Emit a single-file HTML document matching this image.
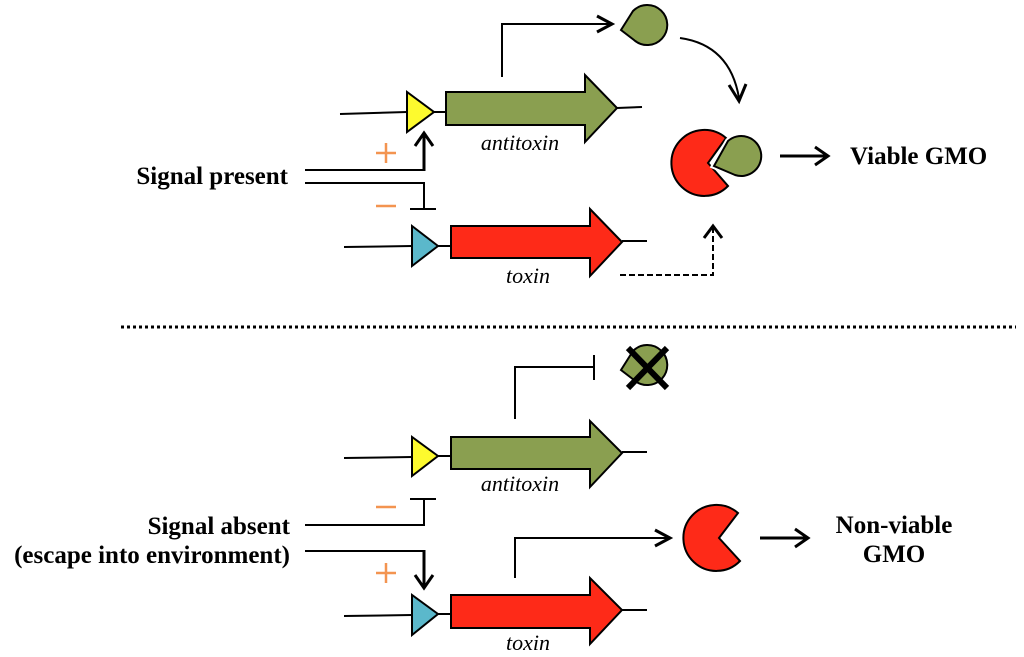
<!DOCTYPE html>
<html><head><meta charset="utf-8"><style>
html,body{margin:0;padding:0;background:#fff;}
svg{display:block;}
text{font-family:"Liberation Serif",serif;}
</style></head><body>
<svg width="1024" height="657" viewBox="0 0 1024 657" xmlns="http://www.w3.org/2000/svg">
<g stroke="#000" stroke-width="2" fill="none">
<line x1="340" y1="114" x2="407" y2="112"/>
<line x1="434" y1="112" x2="446" y2="112"/>
<line x1="617" y1="108" x2="642" y2="107"/>
<line x1="344" y1="247" x2="412" y2="246"/>
<line x1="438" y1="246" x2="451" y2="246"/>
<line x1="622" y1="241" x2="647" y2="241"/>
<polyline points="502,77 502,24 610,24"/>
<polyline points="597,16 612,24 597,32" stroke-width="3"/>
<path d="M680,38 Q730,45 739,98"/>
<polyline points="729,85 739,101 746,84" stroke-width="3"/>
<polyline points="305,170 424,170"/>
<line x1="424" y1="171" x2="424" y2="135" stroke-width="3"/>
<polyline points="415,146 424,133 433,146" stroke-width="3"/>
<polyline points="305,183 424,183 424,209"/>
<line x1="410" y1="209" x2="436" y2="209"/>
<polyline points="620,275 713,275 713,228" stroke-dasharray="6,3"/>
<polyline points="704,238 713,226 722,238" stroke-width="3"/>
<line x1="780" y1="156" x2="828" y2="156" stroke-width="3"/>
<polyline points="815,147 828,156 815,165" stroke-width="3"/>
<line x1="121" y1="327" x2="1016" y2="327" stroke-width="3" stroke-dasharray="3,3"/>
<line x1="344" y1="458" x2="412" y2="457"/>
<line x1="438" y1="456" x2="451" y2="456"/>
<line x1="622" y1="452" x2="647" y2="452"/>
<polyline points="515,419 515,367 594,367"/>
<line x1="594" y1="355" x2="594" y2="380"/>
<polyline points="305,525 424,525 424,499"/>
<line x1="410" y1="499" x2="436" y2="499"/>
<polyline points="305,551 424,551"/>
<line x1="424" y1="550" x2="424" y2="586" stroke-width="3"/>
<polyline points="415,575 424,588 433,575" stroke-width="3"/>
<line x1="344" y1="616" x2="412" y2="615"/>
<line x1="438" y1="614" x2="451" y2="614"/>
<line x1="622" y1="610" x2="647" y2="610"/>
<polyline points="515,578 515,538 668,538"/>
<polyline points="655,530 670,538 655,546" stroke-width="3"/>
<line x1="760" y1="538" x2="808" y2="538" stroke-width="3"/>
<polyline points="795,529 808,538 795,547" stroke-width="3"/>
</g>
<g stroke="#000" stroke-width="2" stroke-linejoin="miter">
<polygon points="407,92 407,132 434,112" fill="#fdfa2e"/>
<polygon points="446,92 585,92 585,75 617,108 585,142 585,125 446,125" fill="#8a9f50"/>
<polygon points="412,226 412,266 438,246" fill="#5bb8cb"/>
<polygon points="451,226 590,226 590,209 622,242 590,276 590,258 451,258" fill="#fe2a18"/>
<path d="M621,30 L633,11 A20,20 0 1 1 634,40 Z" fill="#8a9f50"/>
<path d="M708,163 L726,138 A33,33 0 1 0 728,186 Z" fill="#fe2a18"/>
<path d="M714,166 L728,141 A20,20 0 1 1 735,175 Z" fill="#8a9f50" stroke="#fff" stroke-width="6"/>
<path d="M714,166 L728,141 A20,20 0 1 1 735,175 Z" fill="#8a9f50"/>
<polygon points="412,437 412,476 438,456" fill="#fdfa2e"/>
<polygon points="451,437 590,437 590,421 622,453 590,487 590,469 451,469" fill="#8a9f50"/>
<polygon points="412,595 412,635 438,614" fill="#5bb8cb"/>
<polygon points="451,595 590,595 590,578 622,610 590,644 590,628 451,628" fill="#fe2a18"/>
<path d="M621,370 L633,351 A20,20 0 1 1 634,380 Z" fill="#8a9f50"/>
<path d="M719,538 L738,513 A33,33 0 1 0 740,561 Z" fill="#fe2a18"/>
</g>
<g stroke="#000" stroke-width="6">
<line x1="628" y1="348" x2="667" y2="388"/>
<line x1="667" y1="348" x2="628" y2="388"/>
</g>
<g stroke="#f39450" stroke-width="2.5">
<line x1="376" y1="153" x2="396" y2="153"/><line x1="386" y1="143" x2="386" y2="163"/>
<line x1="376" y1="206" x2="396" y2="206"/>
<line x1="376" y1="507" x2="396" y2="507"/>
<line x1="376" y1="573" x2="396" y2="573"/><line x1="386" y1="563" x2="386" y2="583"/>
</g>
<g font-style="italic" font-size="22" fill="#000" text-anchor="middle">
<text x="520" y="150">antitoxin</text>
<text x="528" y="283">toxin</text>
<text x="520" y="491">antitoxin</text>
<text x="528" y="650">toxin</text>
</g>
<g font-weight="bold" font-size="25" fill="#000">
<text x="288" y="184" text-anchor="end">Signal present</text>
<text x="850" y="164">Viable GMO</text>
<text x="290" y="534" text-anchor="end">Signal absent</text>
<text x="290" y="563" text-anchor="end">(escape into environment)</text>
<text x="894" y="533" text-anchor="middle">Non-viable</text>
<text x="894" y="562" text-anchor="middle">GMO</text>
</g>
</svg>
</body></html>
